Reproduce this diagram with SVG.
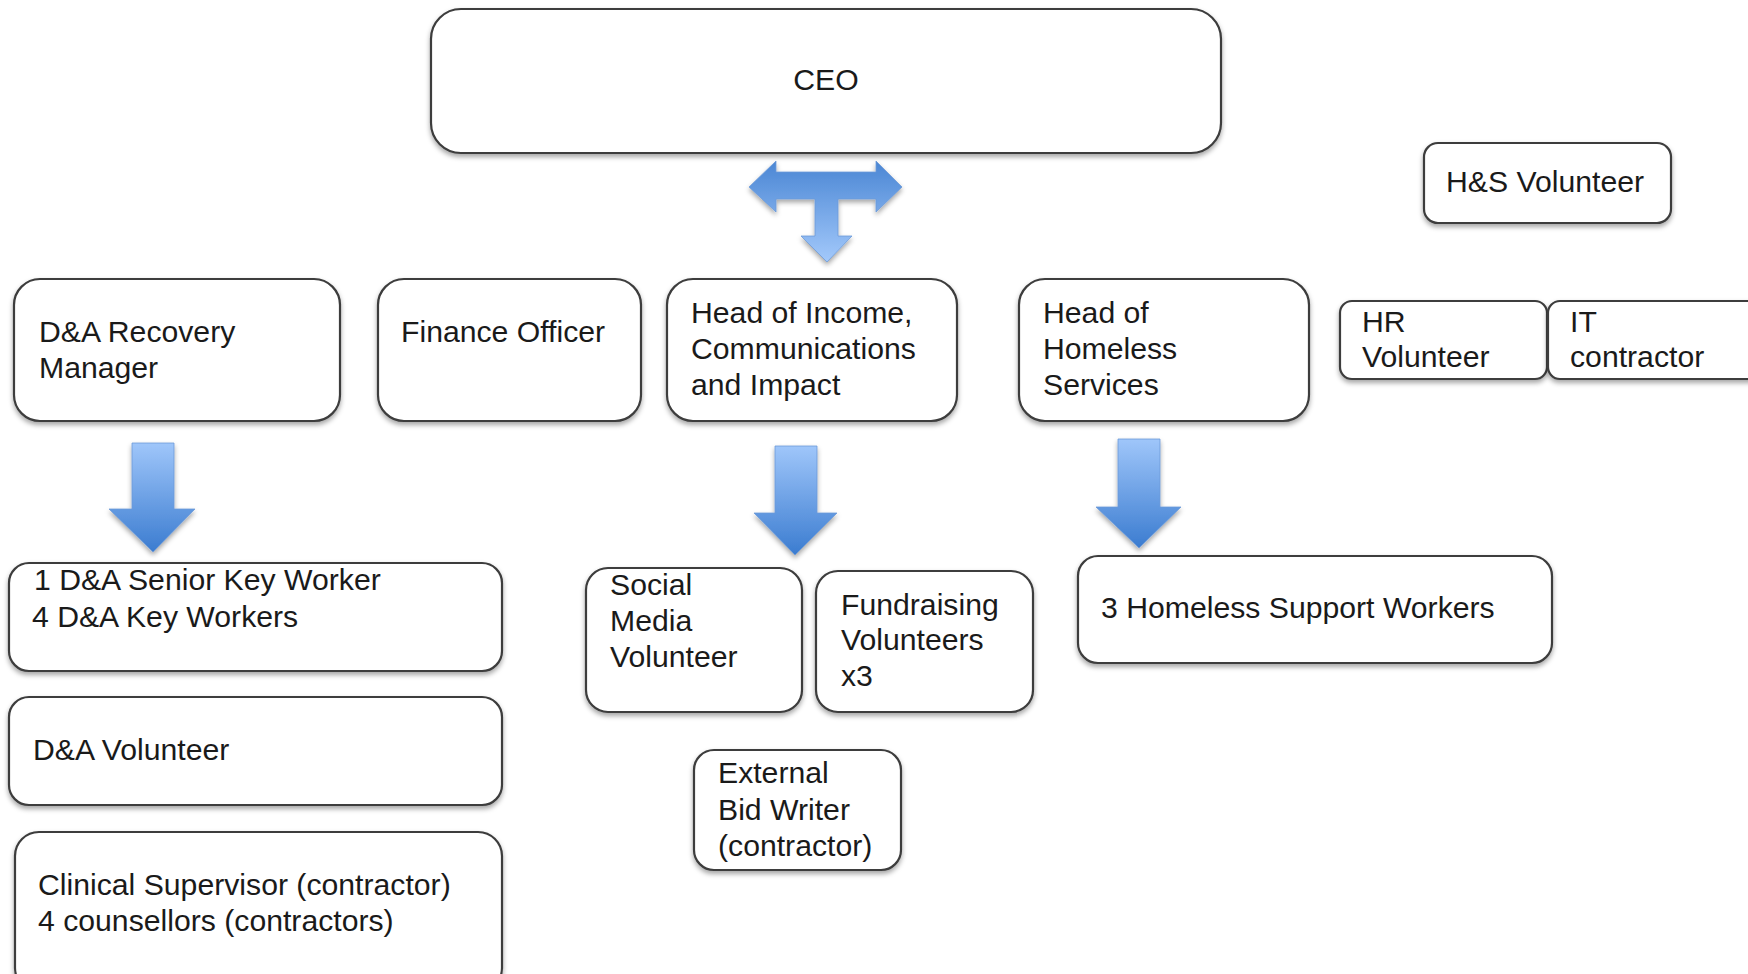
<svg xmlns="http://www.w3.org/2000/svg" width="1748" height="974" viewBox="0 0 1748 974">
<defs>
<filter id="sh" x="-10%" y="-10%" width="120%" height="130%">
<feDropShadow dx="0" dy="3" stdDeviation="2.5" flood-color="#000" flood-opacity="0.35"/>
</filter>
<linearGradient id="gdown" x1="0" y1="0" x2="0" y2="1">
<stop offset="0" stop-color="#9fc6fa"/>
<stop offset="1" stop-color="#3b7cd0"/>
</linearGradient>
<linearGradient id="gT" x1="0" y1="0" x2="0" y2="1">
<stop offset="0" stop-color="#4a86d4"/>
<stop offset="1" stop-color="#a3c9fb"/>
</linearGradient>
<style>
.box{fill:#fff;stroke:#3c3c3c;stroke-width:2.2;filter:url(#sh)}
.t{font-family:"Liberation Sans",Arial,sans-serif;font-size:30.2px;fill:#1a1a1a}
.arr{stroke:#6d9ad8;stroke-width:0.8;filter:url(#sh)}
</style>
</defs>
<rect width="1748" height="974" fill="#fff"/>

<g id="connectors">
<path class="arr" fill="url(#gT)" d="M749,187 L776,161 L776,172 L876,172 L876,161 L902,187 L876,212 L876,199 L838,199 L838,236 L852,236 L827,262 L801,236 L815,236 L815,199 L776,199 L776,212 Z"/>
<path class="arr" fill="url(#gdown)" d="M132,443 L174,443 L174,509 L195,509 L153,552 L109,509 L132,509 Z"/>
<path class="arr" fill="url(#gdown)" d="M775,446 L817,446 L817,513 L837,513 L795,555 L754,513 L775,513 Z"/>
<path class="arr" fill="url(#gdown)" d="M1118,439 L1160,439 L1160,507 L1181,507 L1139,548 L1096,507 L1118,507 Z"/>
</g>

<g id="ceo">
<rect class="box" x="431" y="9" width="790" height="144" rx="30"/>
<text class="t" x="826" y="90" text-anchor="middle">CEO</text>
</g>

<g id="hs-volunteer">
<rect class="box" x="1424" y="143" width="247" height="80" rx="14"/>
<text class="t" x="1446" y="192">H&amp;S Volunteer</text>
</g>

<g id="da-recovery-manager">
<rect class="box" x="14" y="279" width="326" height="142" rx="26"/>
<text class="t" x="39" y="342">D&amp;A Recovery</text>
<text class="t" x="39" y="378">Manager</text>
</g>

<g id="finance-officer">
<rect class="box" x="378" y="279" width="263" height="142" rx="26"/>
<text class="t" x="401" y="342">Finance Officer</text>
</g>

<g id="head-income">
<rect class="box" x="667" y="279" width="290" height="142" rx="26"/>
<text class="t" x="691" y="323">Head of Income,</text>
<text class="t" x="691" y="359">Communications</text>
<text class="t" x="691" y="395">and Impact</text>
</g>

<g id="head-homeless">
<rect class="box" x="1019" y="279" width="290" height="142" rx="26"/>
<text class="t" x="1043" y="323">Head of</text>
<text class="t" x="1043" y="359">Homeless</text>
<text class="t" x="1043" y="395">Services</text>
</g>

<g id="hr-volunteer">
<rect class="box" x="1340" y="301" width="207" height="78" rx="12"/>
<text class="t" x="1362" y="332">HR</text>
<text class="t" x="1362" y="367">Volunteer</text>
</g>

<g id="it-contractor">
<rect class="box" x="1548" y="301" width="220" height="78" rx="12"/>
<text class="t" x="1570" y="332">IT</text>
<text class="t" x="1570" y="367">contractor</text>
</g>

<g id="da-key-workers">
<rect class="box" x="9" y="563" width="493" height="108" rx="20"/>
<text class="t" x="34" y="590">1 D&amp;A Senior Key Worker</text>
<text class="t" x="32" y="627">4 D&amp;A Key Workers</text>
</g>

<g id="da-volunteer">
<rect class="box" x="9" y="697" width="493" height="108" rx="20"/>
<text class="t" x="33" y="760">D&amp;A Volunteer</text>
</g>

<g id="clinical-supervisor">
<rect class="box" x="15" y="832" width="487" height="160" rx="24"/>
<text class="t" x="38" y="895">Clinical Supervisor (contractor)</text>
<text class="t" x="38" y="931">4 counsellors (contractors)</text>
</g>

<g id="social-media-volunteer">
<rect class="box" x="586" y="568" width="216" height="144" rx="22"/>
<text class="t" x="610" y="595">Social</text>
<text class="t" x="610" y="631">Media</text>
<text class="t" x="610" y="667">Volunteer</text>
</g>

<g id="fundraising-volunteers">
<rect class="box" x="816" y="571" width="217" height="141" rx="22"/>
<text class="t" x="841" y="615">Fundraising</text>
<text class="t" x="841" y="650">Volunteers</text>
<text class="t" x="841" y="686">x3</text>
</g>

<g id="homeless-support-workers">
<rect class="box" x="1078" y="556" width="474" height="107" rx="20"/>
<text class="t" x="1101" y="618">3 Homeless Support Workers</text>
</g>

<g id="external-bid-writer">
<rect class="box" x="694" y="750" width="207" height="120" rx="20"/>
<text class="t" x="718" y="783">External</text>
<text class="t" x="718" y="820">Bid Writer</text>
<text class="t" x="718" y="856">(contractor)</text>
</g>
</svg>
